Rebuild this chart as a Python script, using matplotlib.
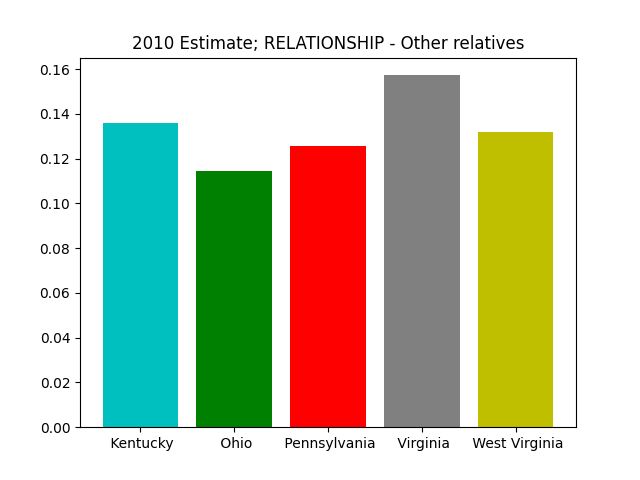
import matplotlib
matplotlib.use("Agg")
import matplotlib.pyplot as plt

# Values
states = [" Kentucky", " Ohio", " Pennsylvania", " Virginia", " West Virginia"]
values = [0.1359, 0.1144, 0.1256, 0.1573, 0.1318]
colors = ["c", "g", "r", "grey", "y"]

fig, ax = plt.subplots(figsize=(6.4, 4.8), dpi=100)
ax.bar(range(len(states)), values, color=colors)
ax.set_xticks(range(len(states)))
ax.set_xticklabels(states)
ax.set_title("2010 Estimate; RELATIONSHIP - Other relatives")
fig.savefig("out.png", dpi=100)
